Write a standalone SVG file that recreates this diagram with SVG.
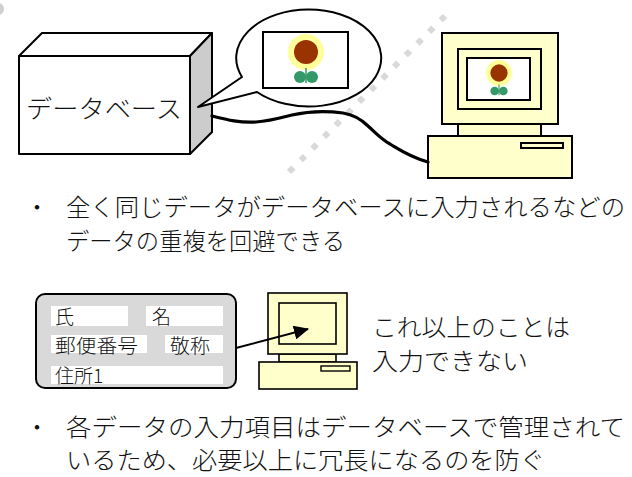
<svg xmlns="http://www.w3.org/2000/svg" width="632" height="477" viewBox="0 0 632 477">
  <style>
    .jp { font-family: "Noto Sans CJK JP", "Noto Sans", sans-serif; font-weight: 300; fill: #111; }
    .line { fill: none; stroke: #000; stroke-width: 2; stroke-linejoin: round; }
    .pc { fill: #ffffcc; stroke: #000; stroke-width: 2; }
    .field { fill: #fff; }
    .halo { fill: #ffff99; }
    .bloom { fill: #993300; }
    .leaf { fill: #339966; }
  </style>
  <defs>
    <marker id="arrowhead" markerUnits="userSpaceOnUse" markerWidth="16" markerHeight="14" refX="14" refY="7" orient="auto">
      <path d="M0,0 L15,7 L0,14 Z" fill="#000"/>
    </marker>
    <!-- small sunflower picture, drawn around its own centre -->
    <g id="flower">
      <circle class="halo" cx="0" cy="0" r="18"/>
      <circle class="bloom" cx="0" cy="0" r="12"/>
      <line x1="0" y1="16" x2="0" y2="31" stroke="#339966" stroke-width="1.5"/>
      <circle class="leaf" cx="-6" cy="25" r="6"/>
      <circle class="leaf" cx="6" cy="25" r="6"/>
    </g>
  </defs>

  <!-- background decoration -->
  <circle cx="-2" cy="9" r="6" fill="#d0d0d0"/>
  <line x1="445" y1="16" x2="285" y2="176" stroke="#d9d9d9" stroke-width="6" stroke-dasharray="6 10.5"/>

  <g id="database">
    <polygon class="line" points="19,56 42,33 212,33 190,56" style="fill:#fff"/>
    <polygon class="line" points="190,56 212,33 212,132 190,154" style="fill:#cccccc"/>
    <rect class="line" x="19" y="56" width="171" height="98" style="fill:#fff"/>
    <text class="jp" x="26" y="118" font-size="25" textLength="156" lengthAdjust="spacingAndGlyphs">データベース</text>
  </g>

  <g id="bubble">
    <path class="line" d="M242,77 L198,107 L257,92 A72.5,48.5 0 1 0 242,77 Z" style="fill:#fff"/>
    <rect x="263" y="32" width="85" height="56" fill="#fff" stroke="#000" stroke-width="2"/>
    <use href="#flower" transform="translate(306,52)"/>
  </g>

  <g id="computer">
    <rect class="pc" x="458" y="124" width="83" height="12"/>
    <rect class="pc" x="428" y="136" width="144" height="42"/>
    <rect class="pc" x="521" y="143" width="42" height="5"/>
    <rect class="pc" x="442" y="33" width="116" height="91"/>
    <rect class="pc" x="458" y="49" width="83" height="60"/>
    <rect x="467" y="58" width="63" height="42" fill="#fff" stroke="#000" stroke-width="2"/>
    <use href="#flower" transform="translate(499,73) scale(0.72)"/>
  </g>

  <g id="caption-1" class="jp" font-size="24">
    <text x="25" y="216">・</text>
    <text x="66" y="216" textLength="559" lengthAdjust="spacingAndGlyphs">全く同じデータがデータベースに入力されるなどの</text>
    <text x="66" y="250" textLength="279" lengthAdjust="spacingAndGlyphs">データの重複を回避できる</text>
  </g>

  <g id="form">
    <rect x="36" y="294" width="200" height="94" rx="9" fill="#d9d9d9" stroke="#000" stroke-width="2"/>
    <rect class="field" x="51" y="306" width="77" height="20"/>
    <rect class="field" x="146" y="306" width="77" height="20"/>
    <rect class="field" x="51" y="335" width="96" height="18"/>
    <rect class="field" x="165" y="335" width="58" height="18"/>
    <rect class="field" x="51" y="366" width="172" height="18"/>
    <g class="jp" font-size="19">
      <text x="55" y="324">氏</text>
      <text x="152" y="324">名</text>
      <text x="55" y="353" textLength="83" lengthAdjust="spacingAndGlyphs">郵便番号</text>
      <text x="170" y="353" textLength="40" lengthAdjust="spacingAndGlyphs">敬称</text>
      <text x="55" y="383">住所1</text>
    </g>
  </g>

  <g id="terminal">
    <rect class="pc" x="279" y="354" width="57" height="8" style="stroke-width:1.6"/>
    <rect class="pc" x="259" y="362" width="98" height="27" style="stroke-width:1.6"/>
    <rect class="pc" x="321" y="366" width="29" height="5" style="stroke-width:1.4"/>
    <rect class="pc" x="268" y="293" width="79" height="61" style="stroke-width:1.6"/>
    <rect class="pc" x="279" y="303" width="57" height="41" style="stroke-width:1.6"/>
  </g>

  <g id="note" class="jp" font-size="24">
    <text x="372" y="336" textLength="198" lengthAdjust="spacingAndGlyphs">これ以上のことは</text>
    <text x="372" y="370" textLength="156" lengthAdjust="spacingAndGlyphs">入力できない</text>
  </g>

  <g id="caption-2" class="jp" font-size="24">
    <text x="25" y="436">・</text>
    <text x="66" y="436" textLength="559" lengthAdjust="spacingAndGlyphs">各データの入力項目はデータベースで管理されて</text>
    <text x="66" y="469" textLength="479" lengthAdjust="spacingAndGlyphs">いるため、必要以上に冗長になるのを防ぐ</text>
  </g>

  <g id="connectors">
    <!-- cable from the database to the computer -->
    <path d="M212,116 C228,120 240,123 256,122 C270,121 280,118 292,115 C305,112 322,110 343,113 C355,115 362,120 368,126 C376,133 381,139 390,144 C400,150 410,157 428,162" fill="none" stroke="#000" stroke-width="3.2" stroke-linecap="round"/>
    <!-- form to terminal -->
    <line x1="236" y1="348" x2="308" y2="329" stroke="#000" stroke-width="2" marker-end="url(#arrowhead)"/>
  </g>
</svg>
